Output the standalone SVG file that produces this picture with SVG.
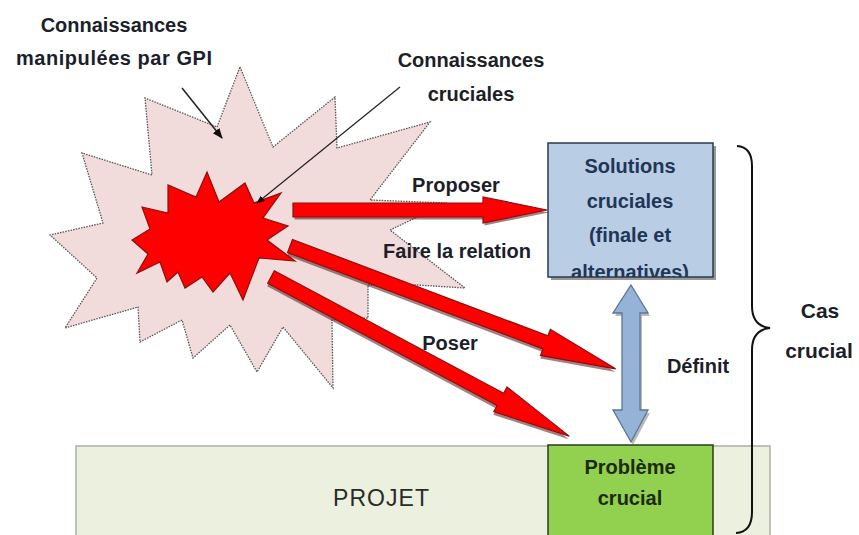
<svg xmlns="http://www.w3.org/2000/svg" width="859" height="535" viewBox="0 0 859 535">
<style>
.lbl{font-family:"Liberation Sans",Arial,sans-serif;font-weight:bold;font-size:20px;fill:#1c1f2a;text-anchor:middle}
.sol{fill:#1f3656}
.pb{fill:#1c2a0c}
.red{fill:#ff0000;stroke:#8a1010;stroke-width:1.2}
.shd{fill:#5a1a1a;opacity:.55}
</style>
<defs>
<clipPath id="solclip"><rect x="548" y="143" width="165" height="134"/></clipPath>
<marker id="blk" viewBox="0 0 10 10" refX="9" refY="5" markerWidth="7" markerHeight="7" orient="auto-start-reverse"><path d="M0,1 L10,5 L0,9 Z" fill="#111"/></marker>
</defs>
<rect width="859" height="535" fill="#ffffff"/>

<g id="projet">
<rect x="76" y="446" width="694" height="100" fill="#ebf1de" stroke="#aab2a2" stroke-width="1.5"/>
<text x="381" y="506" style="font-family:'Liberation Sans',Arial,sans-serif;font-size:23px;fill:#2a2a2a;text-anchor:middle" textLength="96">PROJET</text>
</g>

<g id="connaissances-gpi">
<polygon points="240,67 273,147 335,97 337,148 430,122 370,200 447,203 390,230 465,288 417,285 368,285 368,318 332,320 333,388 283,327 257,372 230,325 193,358 182,320 140,342 138,307 65,328 97,278 50,235 103,223 82,153 152,175 145,98 217,127" fill="#f2dcdb" stroke="#555" stroke-width="1.3" stroke-dasharray="1.5 1.2"/>
</g>

<g id="connaissances-cruciales">
<polygon class="red" points="207,172 219,202 245,183 254,203 281,193 263,218 288,226 267,240 295,261 259,258 243,300 230,273 213,292 202,277 185,288 178,272 167,282 160,262 137,273 148,254 132,240 150,229 142,207 168,213 168,185 196,197"/>
</g>

<g id="label-gpi">
<text class="lbl" x="114" y="32">Connaissances</text>
<text class="lbl" x="114" y="65" textLength="196">manipulées par GPI</text>
</g>
<g id="label-cruciales">
<text class="lbl" x="471" y="67">Connaissances</text>
<text class="lbl" x="471" y="101">cruciales</text>
</g>

<g id="solutions">
<rect x="551" y="146" width="165" height="134" fill="#555" opacity=".6"/>
<rect x="548" y="143" width="165" height="134" fill="#b9cde5" stroke="#2b3a4c" stroke-width="1.5"/>
<g clip-path="url(#solclip)">
<text class="lbl sol" x="630" y="173">Solutions</text>
<text class="lbl sol" x="630" y="208">cruciales</text>
<text class="lbl sol" x="630" y="242">(finale et</text>
<text class="lbl sol" x="630" y="279">alternatives)</text>
</g>
</g>

<g id="probleme">
<rect x="548" y="445" width="165" height="100" fill="#92d050" stroke="#2e3b1c" stroke-width="1.5"/>
<text class="lbl pb" x="630" y="474">Problème</text>
<text class="lbl pb" x="630" y="505">crucial</text>
</g>

<g id="cas-crucial">
<path d="M737,146 Q752,147 752,166 L752,306 Q752,326 770,328 Q752,330 752,350 L752,512 Q752,532 736,533" fill="none" stroke="#111" stroke-width="2"/>
<text class="lbl" x="820" y="318" style="font-size:21px">Cas</text>
<text class="lbl" x="819" y="358" style="font-size:21px">crucial</text>
</g>

<g id="connectors">
<line x1="182" y1="88" x2="222" y2="138" stroke="#222" stroke-width="1.5" marker-end="url(#blk)"/>
<line x1="400" y1="87" x2="257" y2="203" stroke="#222" stroke-width="1.2" marker-end="url(#blk)"/>

<g id="arrow-proposer" transform="translate(293,210)">
<polygon class="shd" transform="translate(1.5,2.5)" points="0,-7 190,-7 190,-13 254,0 190,13 190,7 0,7"/>
<polygon class="red" points="0,-7 190,-7 190,-13 254,0 190,13 190,7 0,7"/>
</g>
<g id="arrow-relation" transform="translate(290,246) rotate(20.67)">
<polygon class="shd" transform="translate(1,3)" points="0,-7 273,-7 273,-14 348,0 273,14 273,7 0,7"/>
<polygon class="red" points="0,-7 273,-7 273,-14 348,0 273,14 273,7 0,7"/>
</g>
<g id="arrow-poser" transform="translate(271,277) rotate(28.08)">
<polygon class="shd" transform="translate(1,3)" points="0,-7 260,-7 260,-14 338,0 260,14 260,7 0,7"/>
<polygon class="red" points="0,-7 260,-7 260,-14 338,0 260,14 260,7 0,7"/>
</g>

<g id="arrow-definit">
<polygon points="633,288 650,316 642,316 642,413 650,413 633,445 615,413 624,413 624,316 615,316" fill="#666" opacity=".45"/>
<polygon points="631,285 648,313 640,313 640,410 648,410 631,442 613,410 622,410 622,313 613,313" fill="#95b3d7" stroke="#5d7592" stroke-width="1.3"/>
</g>

<text class="lbl" x="456" y="192">Proposer</text>
<text class="lbl" x="457" y="258">Faire la relation</text>
<text class="lbl" x="450" y="350">Poser</text>
<text class="lbl" x="698" y="373">Définit</text>
</g>
</svg>
